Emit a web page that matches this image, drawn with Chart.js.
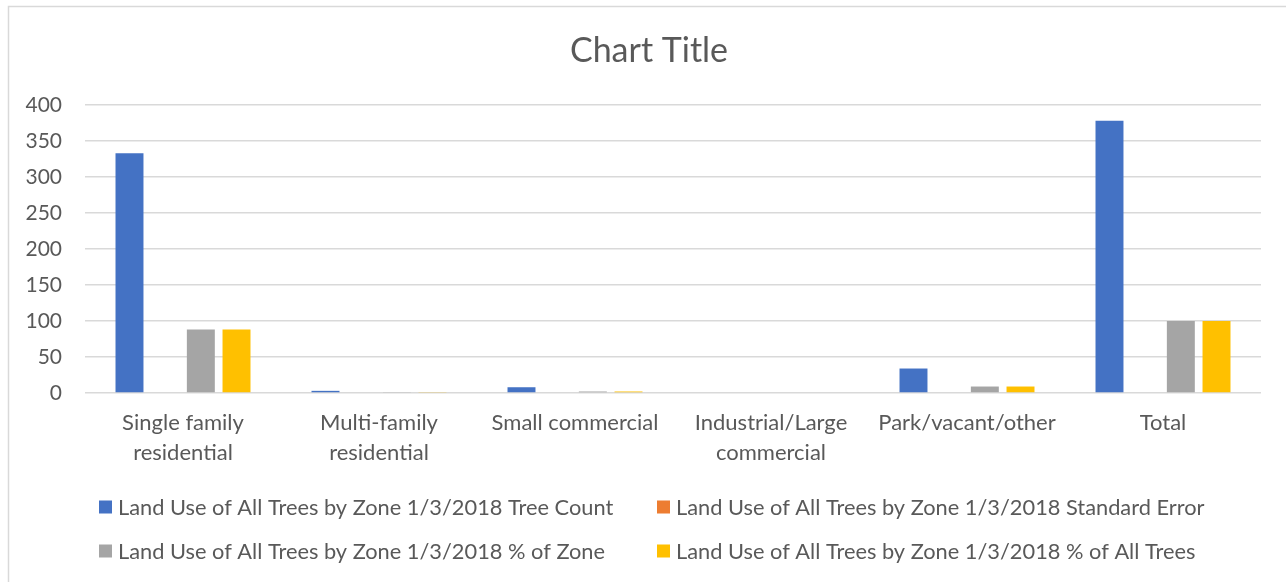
<!DOCTYPE html>
<html>
<head>
<meta charset="utf-8">
<script src="https://cdn.jsdelivr.net/npm/chart.js@4/dist/chart.umd.min.js"></script>
<style>
  html, body { margin: 0; padding: 0; background: #ffffff; }
  #wrap { width: 1286px; height: 582px; position: relative; }
</style>
</head>
<body>
<div id="wrap"><canvas id="c" width="1286" height="582"></canvas></div>
<script>
const categories = [
  ["Single family", "residential"],
  ["Multi-family", "residential"],
  "Small commercial",
  ["Industrial/Large", "commercial"],
  "Park/vacant/other",
  "Total"
];
const seriesNames = [
  "Land Use of All Trees by Zone 1/3/2018 Tree Count",
  "Land Use of All Trees by Zone 1/3/2018 Standard Error",
  "Land Use of All Trees by Zone 1/3/2018 % of Zone",
  "Land Use of All Trees by Zone 1/3/2018 % of All Trees"
];
const treeCount = [333, 3, 8, 0, 34, 378];
const standardError = [0, 0, 0, 0, 0, 0];
const pctOfZone = [88.1, 0.8, 2.1, 0, 9.0, 100];
const pctOfAllTrees = [88.1, 0.8, 2.1, 0, 9.0, 100];
const yTicks = [0, 50, 100, 150, 200, 250, 300, 350, 400];
const chartTitle = "Chart Title";

const colors = ["#4472C4", "#ED7D31", "#A5A5A5", "#FFC000"];
const FONT = "Lato, 'Open Sans', sans-serif";
const TEXT = "#595959";

const frame = {
  id: 'frame',
  beforeDraw(chart) {
    const ctx = chart.ctx;
    ctx.save();
    ctx.fillStyle = '#fff';
    ctx.fillRect(0, 0, chart.width, chart.height);
    ctx.strokeStyle = '#D9D9D9';
    ctx.lineWidth = 1.5;
    ctx.strokeRect(8.5, 6.5, chart.width + 10, chart.height + 10);
    ctx.restore();
  },
  afterDraw(chart) {
    const ctx = chart.ctx;
    ctx.save();
    // title
    ctx.fillStyle = TEXT;
    ctx.font = "34px " + FONT;
    ctx.textAlign = 'center';
    ctx.textBaseline = 'middle';
    ctx.fillText(chartTitle, 649, 51);
    // legend
    ctx.font = "21.8px " + FONT;
    ctx.textAlign = 'left';
    const cols = [99, 657];
    const rows = [507, 551];
    chart.data.datasets.forEach((ds, i) => {
      const x = cols[i % 2];
      const y = rows[Math.floor(i / 2)];
      ctx.fillStyle = ds.backgroundColor;
      ctx.fillRect(x, y - 6.5, 13, 13);
      ctx.fillStyle = TEXT;
      ctx.fillText(ds.label, x + 19, y + 1);
    });
    ctx.restore();
  }
};

new Chart(document.getElementById('c'), {
  type: 'bar',
  data: {
    labels: categories,
    datasets: [
      { label: seriesNames[0], data: treeCount, backgroundColor: colors[0] },
      { label: seriesNames[1], data: standardError, backgroundColor: colors[1] },
      { label: seriesNames[2], data: pctOfZone, backgroundColor: colors[2] },
      { label: seriesNames[3], data: pctOfAllTrees, backgroundColor: colors[3] }
    ]
  },
  options: {
    responsive: false,
    animation: false,
    devicePixelRatio: 1,
    layout: { padding: { top: 105, right: 25, bottom: 89, left: 0 } },
    datasets: { bar: { categoryPercentage: 0.728, barPercentage: 0.784 } },
    plugins: {
      legend: { display: false },
      title: { display: false },
      tooltip: { enabled: false }
    },
    scales: {
      x: {
        grid: { display: false, drawTicks: false },
        border: { display: false },
        ticks: {
          color: TEXT,
          font: { family: FONT, size: 22, lineHeight: 1.36 },
          padding: 15,
          maxRotation: 0,
          autoSkip: false
        },
        afterFit(s) { s.height = 100; }
      },
      y: {
        min: 0,
        max: 400,
        afterBuildTicks(s) { s.ticks = yTicks.map(v => ({ value: v })); },
        grid: { color: '#D9D9D9', lineWidth: 1.5, drawTicks: false },
        border: { display: false },
        ticks: {
          color: TEXT,
          font: { family: FONT, size: 21 },
          padding: 23
        },
        afterFit(s) { s.width = 85; }
      }
    }
  },
  plugins: [frame]
});
</script>
</body>
</html>
